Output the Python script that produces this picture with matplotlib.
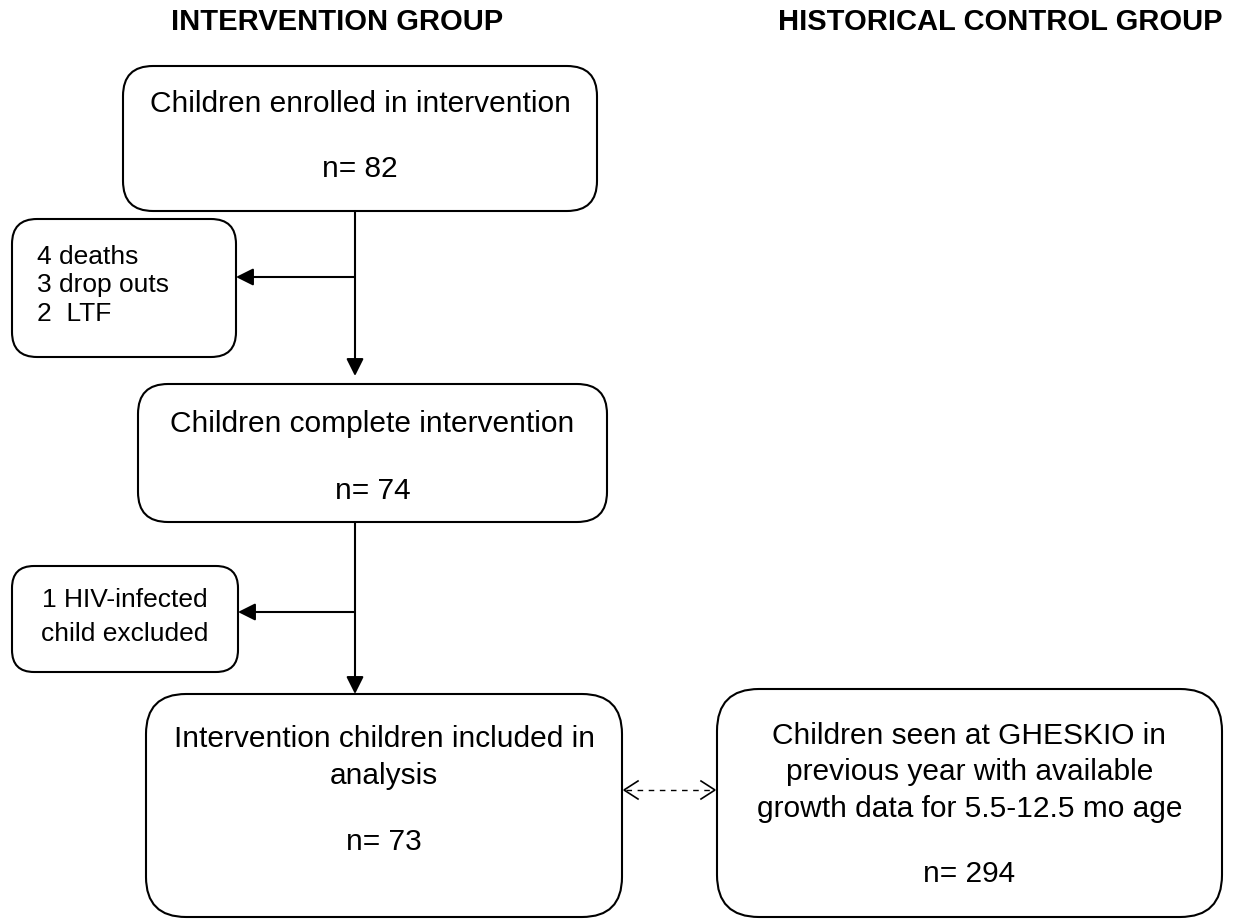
import matplotlib
matplotlib.use("Agg")
import matplotlib.pyplot as plt
from matplotlib.patches import FancyBboxPatch

plt.rcParams["font.family"] = ["Liberation Sans", "DejaVu Sans"]

# chart content
group_titles = ["INTERVENTION GROUP", "HISTORICAL CONTROL GROUP"]
stage_labels = [
    ["Children enrolled in intervention"],
    ["Children complete intervention"],
    ["Intervention children included in", "analysis"],
]
stage_counts = [82, 74, 73]
control_label = [
    "Children seen at GHESKIO in",
    "previous year with available",
    "growth data for 5.5-12.5 mo age",
]
control_count = 294
excluded_lines = [
    ["4 deaths", "3 drop outs", "2  LTF"],
    ["1 HIV-infected", "child excluded"],
]

# layout in pixel units (y grows downward)
W, H = 1233, 920
MAIN_FS = 21.5
SIDE_FS = 19
LW = 1.5
stage_boxes = [(123, 67, 597, 212, 30), (138, 385, 607, 523, 30), (146, 695, 622, 918, 40)]
stage_text_y = [[112], [432], [747, 784]]
stage_count_y = [177, 499, 850]
arrow_gap = [8, 0]
control_box = (717, 690, 1222, 918, 42)
control_text_y = [744, 780, 817]
control_count_y = 882
side_boxes = [(12, 220, 236, 358, 25), (12, 567, 238, 673, 22)]
side_text_y = [[264, 292, 321], [607, 641]]
side_text_x = [(37, "left"), (125, "center")]
spine_x = 355
branch_y = [278, 613]
title_pos = [(337, 30), (1000, 30)]
dash_y = 791


def rounded_box(ax, box):
    x0, y0, x1, y1, r = box
    ax.add_patch(FancyBboxPatch((x0, y0), x1 - x0, y1 - y0,
                                boxstyle=f"round,pad=0,rounding_size={r}",
                                fc="white", ec="black", lw=LW, zorder=2))


def arrow(ax, start, tip):
    ax.annotate("", xy=tip, xytext=start,
                arrowprops=dict(arrowstyle="-|>,head_length=0.5,head_width=0.25",
                                mutation_scale=21, lw=LW, color="black",
                                shrinkA=0, shrinkB=0), zorder=3)


fig = plt.figure(figsize=(W / 100, H / 100), dpi=100)
ax = fig.add_axes([0, 0, 1, 1])
ax.set_xlim(0, W)
ax.set_ylim(H, 0)
ax.axis("off")

for (tx, ty), title in zip(title_pos, group_titles):
    ax.text(tx, ty, title, fontsize=21, fontweight="bold", ha="center", va="baseline")

for box, lines, ys, n, ny in zip(stage_boxes, stage_labels, stage_text_y, stage_counts, stage_count_y):
    rounded_box(ax, box)
    cx = (box[0] + box[2]) / 2
    for line, y in zip(lines, ys):
        ax.text(cx, y, line, fontsize=MAIN_FS, ha="center", va="baseline", zorder=4)
    ax.text(cx, ny, f"n= {n}", fontsize=MAIN_FS, ha="center", va="baseline", zorder=4)

rounded_box(ax, control_box)
ccx = (control_box[0] + control_box[2]) / 2
for line, y in zip(control_label, control_text_y):
    ax.text(ccx, y, line, fontsize=MAIN_FS, ha="center", va="baseline", zorder=4)
ax.text(ccx, control_count_y, f"n= {control_count}", fontsize=MAIN_FS, ha="center", va="baseline", zorder=4)

for box, lines, ys, (tx, ha) in zip(side_boxes, excluded_lines, side_text_y, side_text_x):
    rounded_box(ax, box)
    for line, y in zip(lines, ys):
        ax.text(tx, y, line, fontsize=SIDE_FS, ha=ha, va="baseline", zorder=4)

# vertical flow arrows and exclusion branches
for i in range(2):
    top = stage_boxes[i][3]
    bottom = stage_boxes[i + 1][1] - arrow_gap[i]
    arrow(ax, (spine_x, top), (spine_x, bottom))
    arrow(ax, (spine_x, branch_y[i]), (side_boxes[i][2], branch_y[i]))

# dashed two-way comparison arrow
xl = stage_boxes[2][2] + 2
xr = control_box[0] - 2
ax.plot([xl + 2, xr - 2], [dash_y, dash_y], color="black", lw=1.0, dashes=(4, 4))
for x, d in ((xl, 1), (xr, -1)):
    ax.plot([x + 14 * d, x, x + 14 * d], [dash_y - 9, dash_y, dash_y + 9],
            color="black", lw=1.2, solid_joinstyle="miter")

fig.savefig("out.png", dpi=100)
